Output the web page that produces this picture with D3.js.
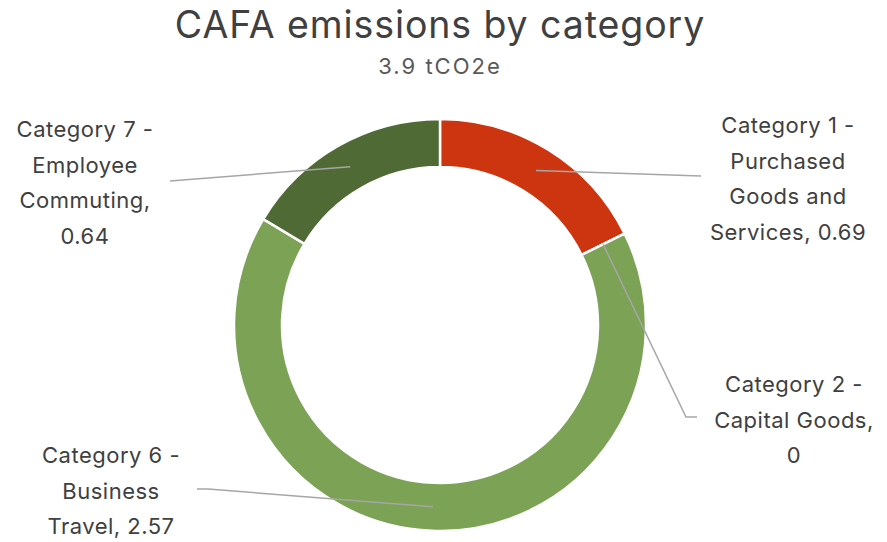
<!DOCTYPE html>
<html>
<head>
<meta charset="UTF-8">
<title>CAFA emissions</title>
<script src="https://cdn.jsdelivr.net/npm/d3@7"></script>
<style>
  body { margin: 0; background: #fff; }
  text { font-family: Inter, "Open Sans", sans-serif; }
</style>
</head>
<body>
<svg width="887" height="542"></svg>
<script>
// data
var categories = ["Category 1 - Purchased Goods and Services", "Category 2 - Capital Goods",
                  "Category 6 - Business Travel", "Category 7 - Employee Commuting"];
var values = [0.69, 0, 2.57, 0.64];
var colors = ["#CC3510", "#7BA255", "#7BA255", "#4F6A35"];
var labelLines = [
  ["Category 1 -", "Purchased", "Goods and", "Services, 0.69"],
  ["Category 2 -", "Capital Goods,", "0"],
  ["Category 6 -", "Business", "Travel, 2.57"],
  ["Category 7 -", "Employee", "Commuting,", "0.64"]
];
var total = 3.9;

// layout of data labels (centre x, first baseline y) and leader elbows
var labelPos = [[788, 133], [794, 392], [111, 463], [85, 137]];
var elbow = [[701, 176], [686, 417], [208, 489], [170, 181]];
var elbowEnd = [[701, 176], [697, 417], [197, 489], [170, 181]];

var svg = d3.select("svg");
var cx = 440, cy = 325, rOut = 206, rIn = 158;

svg.append("text")
  .attr("x", cx).attr("y", 38)
  .attr("text-anchor", "middle")
  .attr("font-size", 37.5)
  .attr("letter-spacing", 0.9)
  .attr("fill", "#404040")
  .text("CAFA emissions by category");

svg.append("text")
  .attr("x", cx).attr("y", 74)
  .attr("text-anchor", "middle")
  .attr("font-size", 22)
  .attr("letter-spacing", 2)
  .attr("fill", "#595959")
  .text(total + " tCO2e");

var pie = d3.pie().sort(null).value(function(d){ return d; });
var arcs = pie(values);
var arc = d3.arc().innerRadius(rIn).outerRadius(rOut);
var mid = d3.arc().innerRadius(182).outerRadius(182);

var g = svg.append("g").attr("transform", "translate(" + cx + "," + cy + ")");

g.selectAll("path.slice")
  .data(arcs)
  .enter()
  .append("path")
  .attr("class", "slice")
  .attr("d", arc)
  .attr("fill", function(d, i){ return colors[i]; })
  .attr("stroke", "#fff")
  .attr("stroke-width", 2.5);

// leader lines
svg.append("g").selectAll("polyline")
  .data(arcs)
  .enter()
  .append("polyline")
  .attr("points", function(d, i){
    var c = mid.centroid(d);
    var p0 = [cx + c[0], cy + c[1]];
    return [p0, elbow[i], elbowEnd[i]].map(function(p){ return p.join(","); }).join(" ");
  })
  .attr("fill", "none")
  .attr("stroke", "#A6A6A6")
  .attr("stroke-width", 1.5);

// labels
var lab = svg.append("g").selectAll("text")
  .data(labelLines)
  .enter()
  .append("text")
  .attr("text-anchor", "middle")
  .attr("font-size", 22)
  .attr("letter-spacing", 0.5)
  .attr("fill", "#404040");

lab.each(function(lines, i){
  var t = d3.select(this);
  lines.forEach(function(s, k){
    t.append("tspan")
      .attr("x", labelPos[i][0])
      .attr("y", labelPos[i][1] + k * 35.5)
      .text(s);
  });
});
</script>
</body>
</html>
